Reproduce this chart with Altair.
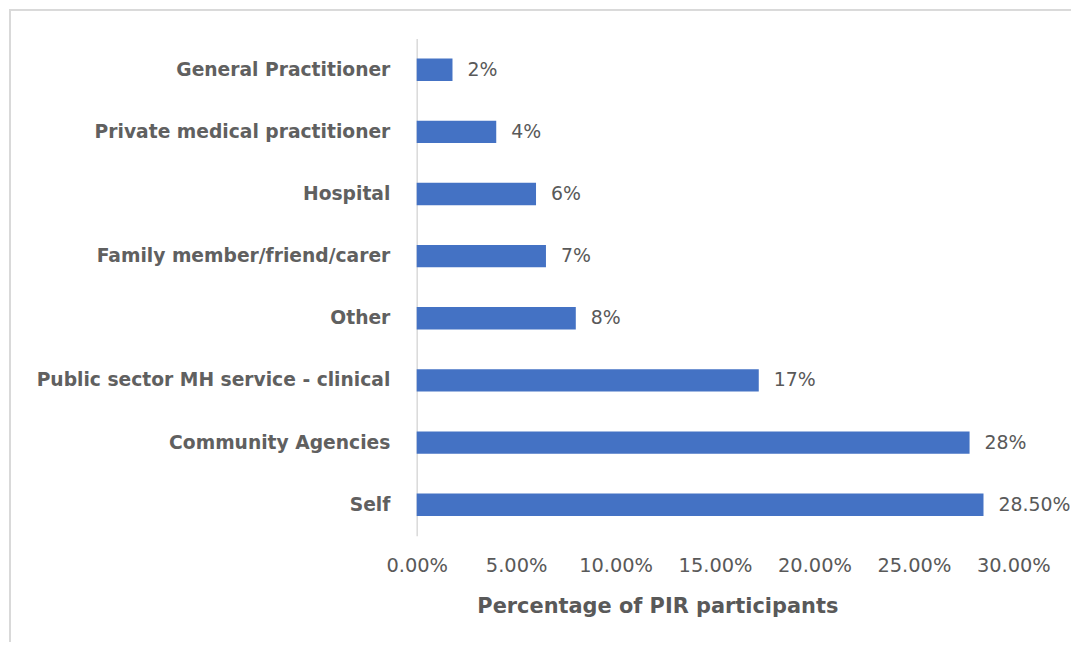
import altair as alt
import pandas as pd

categories = [
    "General Practitioner",
    "Private medical practitioner",
    "Hospital",
    "Family member/friend/carer",
    "Other",
    "Public sector MH service - clinical",
    "Community Agencies",
    "Self",
]
values = [0.018, 0.040, 0.060, 0.065, 0.080, 0.172, 0.278, 0.285]
labels = ["2%", "4%", "6%", "7%", "8%", "17%", "28%", "28.50%"]
tick_values = [0, 0.05, 0.10, 0.15, 0.20, 0.25, 0.30]

df = pd.DataFrame({"source": categories, "pct": values, "label": labels})

FONT = "DejaVu Sans"
GREY = "#595959"

y_enc = alt.Y(
    "source:N",
    sort=categories,
    scale=alt.Scale(paddingInner=0.64, paddingOuter=0.32),
    axis=alt.Axis(
        title=None,
        domain=True,
        domainColor="#d9d9d9",
        domainWidth=1.5,
        ticks=False,
        labelFont=FONT,
        labelFontSize=18.8,
        labelFontWeight="bold",
        labelColor="#606060",
        labelPadding=27,
        labelLimit=420,
    ),
)

x_enc = alt.X(
    "pct:Q",
    scale=alt.Scale(domain=[0, 0.30]),
    axis=alt.Axis(
        format=".2%",
        values=tick_values,
        domain=False,
        ticks=False,
        grid=False,
        labelFlush=False,
        labelFont=FONT,
        labelFontSize=19.5,
        labelColor=GREY,
        labelPadding=21,
        title="Percentage of PIR participants",
        titleFont=FONT,
        titleFontSize=21,
        titleFontWeight="bold",
        titleColor=GREY,
        titleX=242,
        titleY=71,
        titleAnchor="middle",
        titleAlign="center",
        titleBaseline="middle",
    ),
)

bars = alt.Chart(df).mark_bar(color="#4472C4").encode(x=x_enc, y=y_enc)

text = alt.Chart(df).mark_text(
    align="left", baseline="middle", dx=15, font=FONT, fontSize=19, color=GREY
).encode(x="pct:Q", y=alt.Y("source:N", sort=categories), text="label:N")

frame = alt.Chart(df).mark_rect(fill=None, stroke="#d9d9d9", strokeWidth=1.5).encode(
    x=alt.value(-409), x2=alt.value(700), y=alt.value(-29), y2=alt.value(700)
)

chart = (
    alt.layer(frame, bars, text)
    .properties(
        width=600,
        height=500,
        background="white",
        autosize=alt.AutoSizeParams(type="none"),
        padding={"left": 411, "top": 29, "right": 58, "bottom": 105},
    )
    .configure_view(strokeWidth=0)
)

chart.save("out.html", embed_options={"renderer": "svg", "actions": False})
